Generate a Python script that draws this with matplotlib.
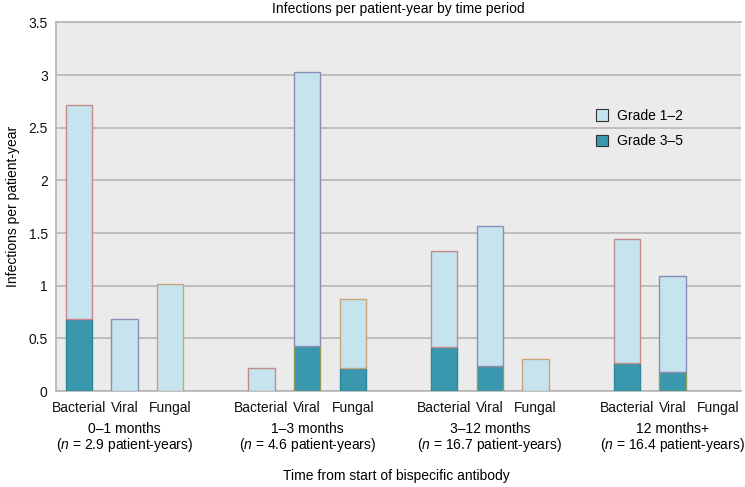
import numpy as np
import matplotlib.pyplot as plt
from matplotlib.patches import Patch

plt.rcParams['font.family'] = ['Liberation Sans', 'DejaVu Sans']
plt.rcParams['mathtext.fontset'] = 'custom'
plt.rcParams['mathtext.it'] = 'Liberation Sans:italic'
plt.rcParams['mathtext.rm'] = 'Liberation Sans'

# data
periods = ['0\u20131 months', '1\u20133 months', '3\u201312 months', '12 months+']
patient_years = ['2.9', '4.6', '16.7', '16.4']
types = ['Bacterial', 'Viral', 'Fungal']
# total infections per patient-year (grade 1-5), rows = periods, cols = types
total = np.array([[2.72, 0.68, 1.02],
                  [0.22, 3.03, 0.87],
                  [1.33, 1.57, 0.30],
                  [1.44, 1.09, 0.00]])
# grade 3-5 part
severe = np.array([[0.68, 0.00, 0.00],
                   [0.00, 0.43, 0.22],
                   [0.42, 0.24, 0.00],
                   [0.27, 0.18, 0.00]])
mild = total - severe

c_mild = '#c6e4ee'
c_severe = '#3997ae'
edge_type = ['#c48a8a', '#8c8cb8', '#c9a47a']
edge_severe = ['#2f8599', '#8f9c55', '#2f8599']

fig = plt.figure(figsize=(7.45, 4.87), dpi=100)
ax = fig.add_axes([0.0752, 0.197, 0.9194, 0.757])
ax.set_facecolor('#ebebeb')

xs, xlabels = [], []
for g in range(len(periods)):
    for t in range(len(types)):
        x = g * 4 + t
        xs.append(x)
        xlabels.append(types[t])
        if total[g, t] <= 0:
            continue
        ax.bar(x, severe[g, t], width=0.58, color=c_severe,
               edgecolor=edge_severe[t], linewidth=1, zorder=3)
        ax.bar(x, mild[g, t], bottom=severe[g, t], width=0.58, color=c_mild,
               edgecolor=edge_type[t], linewidth=1, zorder=3)

ax.set_xlim(-0.5, 14.5)
ax.set_ylim(0, 3.5)
ax.set_yticks(np.arange(0, 3.51, 0.5))
ax.set_yticklabels(['0', '0.5', '1', '1.5', '2', '2.5', '3', '3.5'])
ax.set_xticks(xs)
ax.set_xticklabels(xlabels)
ax.tick_params(length=0, labelsize=10, colors='#111111')
ax.tick_params(axis='x', pad=7)
ax.tick_params(axis='y', pad=6)
ax.grid(axis='y', color='#b5b5b5', linewidth=1.2, zorder=1)
ax.set_axisbelow(True)
for s in ['left', 'bottom', 'top']:
    ax.spines[s].set_color('#b5b5b5')
    ax.spines[s].set_linewidth(1.2)
ax.spines['right'].set_visible(False)

for g in range(len(periods)):
    ax.annotate(periods[g] + '\n($\\it{n}$ = ' + patient_years[g] + ' patient-years)',
                xy=(g * 4 + 1, 0), xycoords=('data', 'axes fraction'),
                xytext=(0, -22), textcoords='offset points',
                ha='center', va='top', fontsize=10, linespacing=1.05)

ax.set_title('Infections per patient-year by time period', fontsize=10, pad=7)
ax.set_ylabel('Infections per patient-year', fontsize=10, labelpad=6)
fig.text(0.532, 0.014, 'Time from start of bispecific antibody', ha='center',
         fontsize=10)

handles = [Patch(facecolor=c_mild, edgecolor='#333333', linewidth=0.8, label='Grade 1\u20132'),
           Patch(facecolor=c_severe, edgecolor='#333333', linewidth=0.8, label='Grade 3\u20135')]
ax.legend(handles=handles, loc='upper left', bbox_to_anchor=(0.77, 0.80),
          frameon=False, fontsize=10, handlelength=0.9, handleheight=0.9,
          handletextpad=0.6, labelspacing=0.85)

fig.savefig('out.png', dpi=100)
